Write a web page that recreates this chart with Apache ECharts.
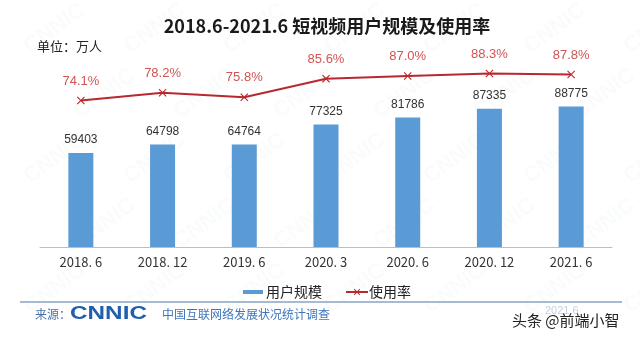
<!DOCTYPE html>
<html>
<head>
<meta charset="utf-8">
<script src="https://cdn.jsdelivr.net/npm/echarts@6/dist/echarts.min.js"></script>
<style>html,body{margin:0;padding:0;background:#fff}#c{width:640px;height:339px}</style>
</head>
<body>
<div id="c"></div>
<script>
var categories = ['2018. 6', '2018. 12', '2019. 6', '2020. 3', '2020. 6', '2020. 12', '2021. 6'];
var users = [59403, 64798, 64764, 77325, 81786, 87335, 88775];
var rate = [74.1, 78.2, 75.8, 85.6, 87.0, 88.3, 87.8];
var titleText = '2018.6-2021.6 短视频用户规模及使用率';
var unitText = '单位：万人';

var CJK = '"Noto Sans CJK SC", "Noto Sans", sans-serif';
var NUM = '"Liberation Sans", Arial, sans-serif';
var xShape = 'path://M0,1L1,0L5,4L9,0L10,1L6,5L10,9L9,10L5,6L1,10L0,9L4,5Z';

var marks = [];
for (var r = 0; r < 5; r++) {
  for (var c = 0; c < 7; c++) {
    marks.push({
      type: 'text', silent: true, z: -10,
      x: 20 + c * 100 + (r % 2) * 50, y: 40 + r * 65, rotation: Math.PI / 5,
      style: { text: 'CNNIC', fill: 'rgba(120,130,140,0.035)', font: 'bold 22px ' + NUM }
    });
  }
}

var chart = echarts.init(document.getElementById('c'), null, { renderer: 'canvas' });
chart.setOption({
  backgroundColor: '#ffffff',
  animation: false,
  title: {
    text: titleText, left: 322, top: 12, textAlign: 'center',
    textStyle: { fontFamily: CJK, fontSize: 18, fontWeight: 'bold', color: '#1a1a1a' }
  },
  graphic: marks.concat([
    { type: 'text', left: 37, top: 40, style: { text: unitText, font: '13px ' + CJK, fill: '#222' } },
    { type: 'line', shape: { x1: 20, y1: 302, x2: 622, y2: 302 }, style: { stroke: '#8aa3c6', lineWidth: 1.5 } },
    { type: 'text', left: 35, top: 308, style: { text: '来源：', font: '12px ' + CJK, fill: '#4a74a8' } },
    { type: 'text', x: 70, y: 305, scaleX: 1.35, style: { text: 'CNNIC', font: 'bold 18px ' + NUM, fill: '#1f5fae' } },
    { type: 'text', left: 162, top: 308, style: { text: '中国互联网络发展状况统计调查', font: '12px ' + CJK, fill: '#3d76bb' } },
    { type: 'text', left: 545, top: 305, style: { text: '2021.6', font: '11px ' + NUM, fill: '#c3d0e0' } },
    { type: 'text', left: 512, top: 313, style: { text: '头条 @前端小智', font: '15px ' + CJK, fill: '#222' } }
  ]),
  legend: [
    {
      data: ['用户规模'], left: 238, top: 280, itemWidth: 20, itemHeight: 4, icon: 'rect', itemGap: 4,
      textStyle: { fontFamily: CJK, fontSize: 14, color: '#222', padding: [0, 0, 0, -2] }
    },
    {
      data: ['使用率'], left: 340, top: 280, itemWidth: 22, itemHeight: 8,
      textStyle: { fontFamily: CJK, fontSize: 14, color: '#222', padding: [0, 0, 0, -4] }
    }
  ],
  grid: { left: 40, right: 28, top: 57, bottom: 92 },
  xAxis: {
    type: 'category', data: categories,
    axisLine: { lineStyle: { color: '#bdbdbd', width: 1 } },
    axisTick: { inside: true, length: 4, lineStyle: { color: '#bdbdbd' } },
    axisLabel: { fontFamily: CJK, fontSize: 13, color: '#333', margin: 9 }
  },
  yAxis: [
    { type: 'value', min: 0, max: 120000, show: false, splitLine: { show: false } },
    { type: 'value', min: -3, max: 97, show: false, splitLine: { show: false } }
  ],
  series: [
    {
      name: '用户规模', type: 'bar', data: users, barWidth: 25, yAxisIndex: 0,
      itemStyle: { color: '#5b9bd5' },
      label: { show: true, position: 'top', distance: 7, fontFamily: NUM, fontSize: 12, color: '#333' }
    },
    {
      name: '使用率', type: 'line', data: rate, yAxisIndex: 1,
      symbol: xShape, symbolSize: 8,
      lineStyle: { color: '#b8282e', width: 2 },
      itemStyle: { color: '#c0282d' },
      label: { show: true, position: 'top', distance: 9, fontFamily: NUM, fontSize: 13, color: '#cf5552',
        formatter: function (p) { return p.value.toFixed(1) + '%'; } }
    }
  ]
});
</script>
</body>
</html>
